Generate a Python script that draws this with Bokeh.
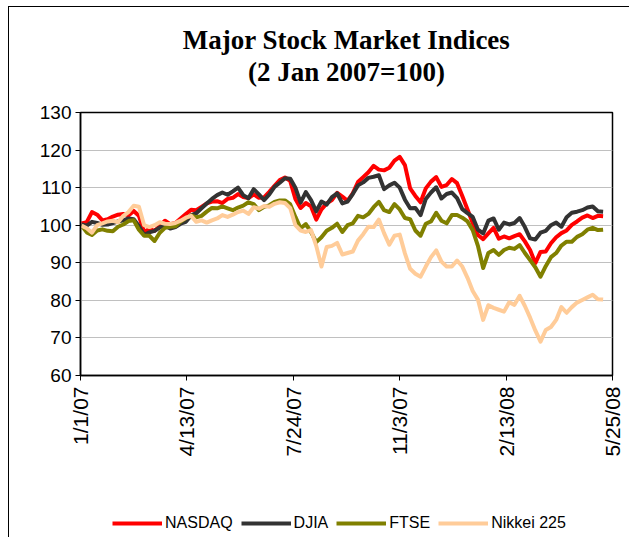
import math
import pandas as pd
from bokeh.plotting import figure
from bokeh.layouts import column
from bokeh.models import (Range1d, FixedTicker, Legend, LegendItem, Title,
                          CustomJSTickFormatter)
from bokeh.embed import file_html
from bokeh.resources import INLINE

# ---------------- data ----------------
dates = [
    "2007-01-02", "2007-01-07", "2007-01-12", "2007-01-17", "2007-01-22", "2007-01-27",
    "2007-02-01", "2007-02-06", "2007-02-11", "2007-02-16", "2007-02-21", "2007-02-26",
    "2007-03-03", "2007-03-08", "2007-03-13", "2007-03-18", "2007-03-23", "2007-03-28",
    "2007-04-02", "2007-04-07", "2007-04-12", "2007-04-17", "2007-04-22", "2007-04-27",
    "2007-05-02", "2007-05-07", "2007-05-12", "2007-05-17", "2007-05-22", "2007-05-27",
    "2007-06-01", "2007-06-06", "2007-06-11", "2007-06-16", "2007-06-21", "2007-06-26",
    "2007-07-01", "2007-07-06", "2007-07-11", "2007-07-16", "2007-07-21", "2007-07-26",
    "2007-07-31", "2007-08-05", "2007-08-10", "2007-08-15", "2007-08-20", "2007-08-25",
    "2007-08-30", "2007-09-04", "2007-09-09", "2007-09-14", "2007-09-19", "2007-09-24",
    "2007-09-29", "2007-10-04", "2007-10-09", "2007-10-14", "2007-10-19", "2007-10-24",
    "2007-10-29", "2007-11-03", "2007-11-08", "2007-11-13", "2007-11-18", "2007-11-23",
    "2007-11-28", "2007-12-03", "2007-12-08", "2007-12-13", "2007-12-18", "2007-12-23",
    "2007-12-28", "2008-01-02", "2008-01-07", "2008-01-12", "2008-01-17", "2008-01-22",
    "2008-01-27", "2008-02-01", "2008-02-06", "2008-02-11", "2008-02-16", "2008-02-21",
    "2008-02-26", "2008-03-02", "2008-03-07", "2008-03-12", "2008-03-17", "2008-03-22",
    "2008-03-27", "2008-04-01", "2008-04-06", "2008-04-11", "2008-04-16", "2008-04-21",
    "2008-04-26", "2008-05-01", "2008-05-06", "2008-05-11", "2008-05-16",
]

nasdaq = [
    100.5, 100.8, 103.5, 102.8, 101.3, 101.6, 102.3, 102.8, 103.0, 102.6,
    103.8, 102.5, 98.2, 99.0, 98.5, 99.8, 101.2, 100.3, 100.6, 101.8,
    103.0, 104.1, 104.0, 104.9, 105.8, 106.3, 106.4, 105.9, 107.0, 107.3,
    108.3, 107.5, 107.2, 108.2, 107.3, 107.4, 108.9, 110.5, 112.0, 112.7,
    111.8, 107.0, 104.6, 105.9, 105.0, 101.5, 104.2, 105.8, 106.7, 108.6,
    107.6, 106.5, 108.5, 111.5, 112.8, 114.1, 115.8, 114.8, 114.6, 115.3,
    117.2, 118.2, 116.0, 109.8, 107.8, 106.1, 109.8, 111.6, 112.8, 110.2,
    110.7, 112.3, 111.2, 107.8, 104.2, 100.6, 97.4, 96.3, 97.8, 99.3,
    96.4, 97.0, 96.5, 97.1, 97.6, 95.7, 93.4, 89.9, 92.9, 93.0,
    95.2, 96.8, 97.9, 98.6, 100.1, 101.0, 102.0, 102.6, 101.9, 102.5,
    102.4,
]

djia = [
    100.2, 99.9, 100.9, 100.6, 100.1, 100.2, 100.6, 101.0, 101.3, 101.8,
    101.6, 99.8, 97.4, 98.1, 98.5, 99.4, 99.9, 99.1, 99.5, 100.4,
    100.9, 102.6, 103.2, 104.5, 105.8, 107.0, 108.0, 108.7, 108.1, 109.0,
    110.0, 108.0, 107.2, 109.6, 108.2, 106.7, 108.2, 110.2, 111.3, 112.5,
    112.4, 110.0, 106.0, 108.8, 106.7, 103.7, 106.3, 105.5, 107.5, 108.5,
    105.8, 106.3, 108.3, 110.6, 111.4, 112.6, 112.9, 113.3, 109.6, 110.6,
    111.3, 110.0, 106.8, 104.5, 104.6, 102.7, 107.0, 108.7, 110.1, 107.1,
    108.3, 108.7, 107.2, 104.3, 103.2, 102.2, 98.8, 97.8, 101.2, 101.8,
    98.8, 100.7, 100.2, 100.6, 101.9, 99.5, 96.5, 96.2, 98.0, 98.5,
    100.0, 100.7, 99.6, 102.1, 103.3, 103.6, 104.0, 104.7, 105.0, 103.7,
    103.6,
]

ftse = [
    99.9, 98.1, 97.4, 98.6, 98.9, 98.5, 98.4, 99.6, 100.2, 101.1,
    101.3, 98.8, 97.2, 97.2, 95.8, 98.0, 99.3, 99.6, 99.7, 101.0,
    101.9, 102.6, 102.1, 102.5, 103.6, 104.6, 104.5, 105.0, 104.5, 104.0,
    104.7, 105.2, 106.1, 105.6, 104.0, 104.9, 105.3, 106.2, 106.6, 106.6,
    105.6, 102.2, 99.2, 100.3, 98.2, 95.5, 96.8, 98.5, 99.3, 100.4,
    98.2, 100.0, 100.5, 102.5, 102.1, 103.0, 104.8, 106.2, 104.0, 103.5,
    105.6, 104.2, 101.9, 101.6, 98.6, 97.2, 100.4, 101.0, 103.3, 101.2,
    100.5, 102.7, 102.7, 102.0, 101.0, 98.7, 94.5, 88.6, 92.6, 93.4,
    92.1, 93.4, 94.0, 93.7, 94.7, 92.6, 90.7, 88.8, 86.3, 89.1,
    91.5, 92.6, 94.6, 95.6, 95.6, 96.9, 97.6, 98.8, 99.3, 98.7,
    98.8,
]

nikkei = [
    99.9, 99.2, 98.0, 100.0, 100.5, 101.0, 101.2, 100.8, 102.5, 103.5,
    105.2, 104.9, 100.0, 99.5, 100.0, 100.8, 100.4, 100.3, 100.6, 101.2,
    102.0, 102.5, 100.9, 101.3, 100.7, 101.3, 101.8, 102.7, 102.2, 102.8,
    103.5, 103.9, 103.0, 104.8, 104.4, 105.1, 104.9, 105.7, 106.1, 105.9,
    104.6, 100.0, 98.6, 98.2, 98.7, 94.5, 89.0, 94.2, 94.5, 95.3,
    92.2, 92.6, 93.0, 95.9, 97.6, 99.6, 99.5, 101.5, 97.9, 94.8,
    97.2, 97.5, 92.5, 88.4, 87.1, 86.3, 89.0, 91.5, 93.3, 90.3,
    89.0, 89.0, 90.6, 89.0, 86.0, 82.5, 80.2, 74.8, 78.7, 78.0,
    77.5, 77.0, 79.5, 78.8, 81.2, 78.5, 75.4, 72.0, 69.0, 72.1,
    72.9, 74.8, 78.2, 76.7, 78.2, 79.4, 80.1, 80.8, 81.5, 80.3,
    80.2,
]

series_names = ["NASDAQ", "DJIA", "FTSE", "Nikkei 225"]
series_colors = ["#FF0000", "#333333", "#808000", "#FFCC99"]

x_tick_dates = ["2007-01-01", "2007-04-13", "2007-07-24", "2007-11-03", "2008-02-13", "2008-05-25"]
x_tick_labels = ["1/1/07", "4/13/07", "7/24/07", "11/3/07", "2/13/08", "5/25/08"]
y_ticks = [60, 70, 80, 90, 100, 110, 120, 130]

title_lines = ["Major Stock Market Indices", "(2 Jan 2007=100)"]


def ms(s):
    return int(pd.Timestamp(s).value // 10**6)


xs = [ms(d) for d in dates]
tick_ms = [ms(d) for d in x_tick_dates]

# ---------------- main chart ----------------
p = figure(width=620, height=500, title=None,
           x_range=Range1d(tick_ms[0], tick_ms[-1]),
           y_range=Range1d(y_ticks[0], y_ticks[-1]),
           output_backend="svg", toolbar_location=None,
           min_border_left=71, min_border_right=17,
           min_border_top=105, min_border_bottom=132,
           background_fill_color="white", border_fill_color="white",
           outline_line_color="black", outline_line_width=1.5)

p.xgrid.visible = False
p.ygrid.ticker = FixedTicker(ticks=y_ticks)
p.ygrid.grid_line_color = "#c0c0c0"
p.ygrid.grid_line_width = 1

p.yaxis.ticker = FixedTicker(ticks=y_ticks)
p.xaxis.ticker = FixedTicker(ticks=tick_ms)
p.xaxis.formatter = CustomJSTickFormatter(
    args=dict(tvals=tick_ms, tlabels=x_tick_labels),
    code="const i = tvals.indexOf(tick); return i >= 0 ? tlabels[i] : '';")
p.xaxis.major_label_orientation = math.pi / 2

for ax in (p.xaxis, p.yaxis):
    ax.axis_line_color = "black"
    ax.axis_line_width = 1.5
    ax.major_tick_line_color = "black"
    ax.major_tick_line_width = 1
    ax.major_tick_out = 5
    ax.major_tick_in = 0
    ax.minor_tick_line_color = None
    ax.major_label_text_font = "Liberation Sans"
    ax.major_label_text_color = "black"
p.yaxis.major_label_text_font_size = "19px"
p.yaxis.major_label_standoff = 4
p.xaxis.major_label_text_font_size = "21px"
p.xaxis.major_label_standoff = 6

for vals, color in zip([nasdaq, djia, ftse, nikkei], series_colors):
    p.line(xs, vals, line_color=color, line_width=4, line_join="round")

# blank spacer title between the plot area and the two title lines
p.add_layout(Title(text=" ", standoff=13, text_font_size="10px"), "above")
p.add_layout(Title(text=title_lines[1], align="center", standoff=0,
                   text_font="Liberation Serif", text_font_style="bold",
                   text_font_size="27px", text_color="black"), "above")
p.add_layout(Title(text=title_lines[0], align="center", standoff=0,
                   text_font="Liberation Serif", text_font_style="bold",
                   text_font_size="27px", text_color="black"), "above")

# ---------------- legend strip ----------------
lg = figure(width=620, height=30, title=None,
            x_range=Range1d(0, 1), y_range=Range1d(0, 1),
            output_backend="svg", toolbar_location=None,
            x_axis_location=None, y_axis_location=None,
            min_border_left=0, min_border_right=0,
            min_border_top=0, min_border_bottom=0,
            background_fill_color="white", border_fill_color="white",
            outline_line_color=None)
lg.xgrid.visible = False
lg.ygrid.visible = False
# legend proxies: their two points lie outside the strip's ranges, so only the key is seen
proxies = [lg.line([5, 6], [5, 6], line_color=c, line_width=4) for c in series_colors]
legend = Legend(
    items=[LegendItem(label=n, renderers=[r]) for n, r in zip(series_names, proxies)],
    orientation="horizontal", location=(32, 5),
    glyph_width=50, glyph_height=16, label_standoff=3, spacing=8,
    padding=0, margin=0, border_line_alpha=0, background_fill_alpha=0,
    label_text_font="Liberation Sans", label_text_font_size="16px",
    label_text_color="black")
lg.add_layout(legend, "center")

layout = column(p, lg, spacing=0)
layout.styles = {"margin-left": "8px", "margin-top": "6px",
                 "border-left": "1px solid #000", "border-top": "1px solid #000"}

open("out.html", "w").write(file_html(layout, INLINE))
